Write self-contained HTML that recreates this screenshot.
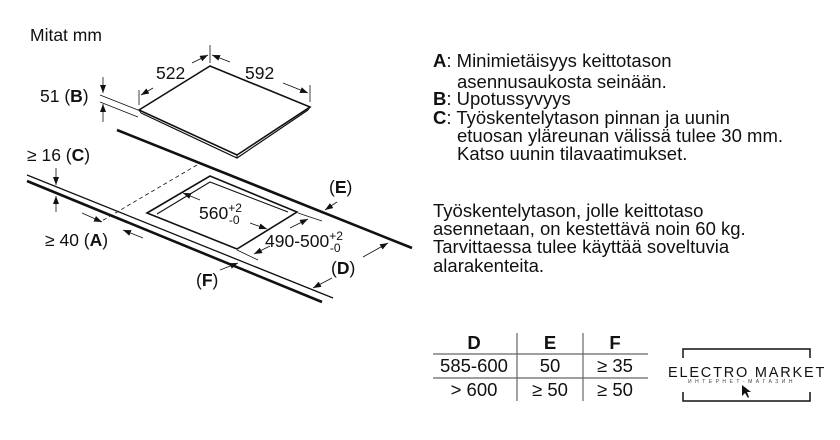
<!DOCTYPE html>
<html><head><meta charset="utf-8"><style>
html,body{margin:0;padding:0;background:#fff;}
svg{display:block;font-family:"Liberation Sans",sans-serif;}
</style></head><body>
<svg width="840" height="440" viewBox="0 0 840 440" xmlns="http://www.w3.org/2000/svg">
<defs>
<marker id="ar" markerWidth="8" markerHeight="6" refX="8" refY="3" orient="auto" markerUnits="userSpaceOnUse"><path d="M0,0 L8,3 L0,6 Z" fill="#111"/></marker>
</defs>
<g fill="#111" font-size="17.5">
<text x="30" y="41">Mitat mm</text>
<text x="156" y="79">522</text>
<text x="245" y="79">592</text>
<text x="40" y="102">51 (<tspan font-weight="bold">B</tspan>)</text>
<text x="27" y="161">≥ 16 (<tspan font-weight="bold">C</tspan>)</text>
<text x="45" y="246">≥ 40 (<tspan font-weight="bold">A</tspan>)</text>
<text x="199" y="219">560<tspan font-size="12" dy="-7">+2</tspan><tspan font-size="12" dx="-13" dy="12">-0</tspan></text>
<text x="265" y="247">490-500<tspan font-size="12" dy="-7">+2</tspan><tspan font-size="12" dx="-13" dy="12">-0</tspan></text>
<text x="329" y="193">(<tspan font-weight="bold">E</tspan>)</text>
<text x="331" y="274">(<tspan font-weight="bold">D</tspan>)</text>
<text x="196" y="286">(<tspan font-weight="bold">F</tspan>)</text>
</g>
<g stroke="#111" fill="none">
<path d="M139,110 L210,66 L310,107 L237,155 Z" stroke-width="1.6" fill="#fff"/>
<path d="M141,113 L237,158 L308,110" stroke-width="1.2"/>
<path d="M139,110 L141,113 M237,155 L237,158 M310,107 L308,110" stroke-width="1"/>
<line x1="117" y1="130" x2="412" y2="248" stroke-width="2.6"/>
<line x1="27" y1="175" x2="333" y2="298" stroke-width="1.3"/>
<line x1="27" y1="181" x2="322" y2="302" stroke-width="2.6"/>
<path d="M147,213 L210,176 L297,212 L237,249 Z" stroke-width="1.6"/>
<path d="M157,214 L210,182 L288,212" stroke-width="1.1"/>
<line x1="197" y1="165" x2="100" y2="222" stroke-width="0.8" stroke-dasharray="4,3"/>
<!-- dims -->
<line x1="210" y1="45" x2="210" y2="63" stroke-width="0.8"/>
<line x1="139" y1="90" x2="139" y2="105" stroke-width="0.8"/>
<line x1="310" y1="85" x2="310" y2="102" stroke-width="0.8"/>
<line x1="192" y1="63" x2="208" y2="55" stroke-width="0.8" marker-end="url(#ar)"/>
<line x1="153" y1="88" x2="141" y2="95" stroke-width="0.8" marker-end="url(#ar)"/>
<line x1="230" y1="62" x2="212" y2="55" stroke-width="0.8" marker-end="url(#ar)"/>
<line x1="283" y1="83" x2="308" y2="93" stroke-width="0.8" marker-end="url(#ar)"/>
<line x1="100" y1="95" x2="138" y2="110" stroke-width="0.8"/>
<line x1="100" y1="102" x2="138" y2="117" stroke-width="0.8"/>
<line x1="103" y1="77" x2="103" y2="93" stroke-width="0.8" marker-end="url(#ar)"/>
<line x1="103" y1="122" x2="103" y2="104" stroke-width="0.8" marker-end="url(#ar)"/>
<line x1="56" y1="168" x2="56" y2="185" stroke-width="0.8" marker-end="url(#ar)"/>
<line x1="56" y1="212" x2="56" y2="196" stroke-width="0.8" marker-end="url(#ar)"/>
<line x1="82" y1="213" x2="102" y2="222" stroke-width="0.8" marker-end="url(#ar)"/>
<line x1="143" y1="238" x2="123" y2="230" stroke-width="0.8" marker-end="url(#ar)"/>
<line x1="200" y1="200" x2="183" y2="193" stroke-width="0.8" marker-end="url(#ar)"/>
<line x1="250" y1="223" x2="267" y2="229" stroke-width="0.8" marker-end="url(#ar)"/>
<line x1="298" y1="213" x2="322" y2="221" stroke-width="0.8"/>
<line x1="237" y1="250" x2="258" y2="260" stroke-width="0.8"/>
<line x1="290" y1="228" x2="308" y2="219" stroke-width="0.8" marker-end="url(#ar)"/>
<line x1="270" y1="246" x2="254" y2="254" stroke-width="0.8" marker-end="url(#ar)"/>
<line x1="337" y1="202" x2="325" y2="210" stroke-width="0.8" marker-end="url(#ar)"/>
<line x1="363" y1="257" x2="388" y2="243" stroke-width="0.8" marker-end="url(#ar)"/>
<line x1="332" y1="278" x2="313" y2="288" stroke-width="0.8" marker-end="url(#ar)"/>
<line x1="220" y1="270" x2="238" y2="263" stroke-width="0.8" marker-end="url(#ar)"/>
</g>
<g fill="#111" font-size="18.5">
<text x="433" y="67"><tspan font-weight="bold">A</tspan>: Minimietäisyys keittotason</text>
<text x="457" y="88">asennusaukosta seinään.</text>
<text x="433" y="105"><tspan font-weight="bold">B</tspan>: Upotussyvyys</text>
<text x="433" y="124"><tspan font-weight="bold">C</tspan>: Työskentelytason pinnan ja uunin</text>
<text x="457" y="142">etuosan yläreunan välissä tulee 30 mm.</text>
<text x="457" y="160">Katso uunin tilavaatimukset.</text>
<text x="433" y="217">Työskentelytason, jolle keittotaso</text>
<text x="433" y="235">asennetaan, on kestettävä noin 60 kg.</text>
<text x="433" y="253">Tarvittaessa tulee käyttää soveltuvia</text>
<text x="433" y="272">alarakenteita.</text>
</g>
<g fill="#111" font-size="18.5" text-anchor="middle">
<text x="474" y="349" font-weight="bold">D</text>
<text x="550" y="349" font-weight="bold">E</text>
<text x="615" y="349" font-weight="bold">F</text>
<text x="474" y="372">585-600</text>
<text x="550" y="372">50</text>
<text x="615" y="372">≥ 35</text>
<text x="474" y="396">&gt; 600</text>
<text x="550" y="396">≥ 50</text>
<text x="615" y="396">≥ 50</text>
</g>
<g stroke="#666" stroke-width="1.2">
<line x1="433" y1="354" x2="648" y2="354"/>
<line x1="433" y1="378" x2="648" y2="378"/>
<line x1="517" y1="333" x2="517" y2="401"/>
<line x1="583" y1="333" x2="583" y2="401"/>
</g>
<path d="M683,358 L683,349 L810,349 L810,358 M683,392 L683,401 L810,401 L810,392" stroke="#111" stroke-width="1.5" fill="none"/>
<text x="668" y="377" font-size="14.5" letter-spacing="1.8" fill="#111">ELECTRO MARKET</text>
<text x="688" y="383" font-size="5" letter-spacing="3.5" fill="#444">ИНТЕРНЕТ-МАГАЗИН</text>
<path d="M742,385 L742,396 L745,393 L748,398 L749,397 L747,392 L751,392 Z" fill="#111"/>
</svg>
</body></html>
